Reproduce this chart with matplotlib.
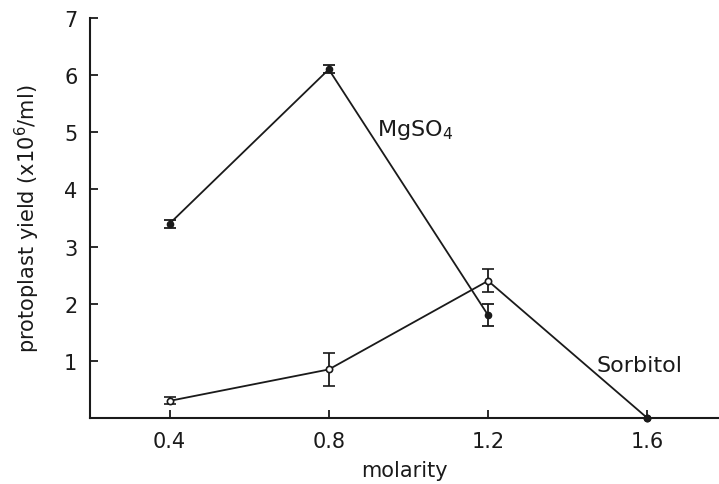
import matplotlib.pyplot as plt

# molarity of the osmotic stabiliser
molarity = [0.4, 0.8, 1.2]
mgso4_yield = [3.4, 6.1, 1.8]
mgso4_err = [0.07, 0.07, 0.19]

sorb_molarity = [0.4, 0.8, 1.2, 1.6]
sorb_yield = [0.3, 0.85, 2.4, 0.0]
sorb_err = [0.06, 0.29, 0.2, 0.0]

x_ticks = [0.4, 0.8, 1.2, 1.6]
x_ticklabels = ['0.4', '0.8', '1.2', '1.6']
y_ticks = [1, 2, 3, 4, 5, 6, 7]

plt.rcParams['font.family'] = ['DejaVu Sans']
plt.rcParams['mathtext.fontset'] = 'dejavusans'

ink = '#1a1a1a'

fig = plt.figure(figsize=(7.19, 4.85), dpi=100)
ax = fig.add_axes([0.125, 0.136, 0.875, 0.825])

ax.errorbar(molarity, mgso4_yield, yerr=mgso4_err,
            color=ink, lw=1.3, marker='o', markersize=4.5,
            mfc=ink, capsize=4, capthick=1.3, elinewidth=1.3,
            clip_on=False)
ax.errorbar(sorb_molarity, sorb_yield, yerr=sorb_err,
            color=ink, lw=1.3, marker='o', markersize=4.5,
            mfc='white', mew=1.2, capsize=4, capthick=1.3, elinewidth=1.3,
            clip_on=False)
# the last point sits on the axis and shows as a dot
ax.plot(sorb_molarity[-1:], sorb_yield[-1:], 'o', color=ink,
        markersize=4.5, clip_on=False, zorder=5)

# labels beside the curves
ax.text(0.92, 4.96, r'MgSO$_{\mathregular{4}}$', fontsize=16, color=ink)
ax.text(1.473, 0.82, 'Sorbitol', fontsize=16, color=ink)

ax.set_xlim(0.2, 1.78)
ax.set_ylim(0, 7)
ax.set_xticks(x_ticks)
ax.set_xticklabels(x_ticklabels)
ax.set_yticks(y_ticks)

ax.spines['top'].set_visible(False)
ax.spines['right'].set_visible(False)
for s in ['left', 'bottom']:
    ax.spines[s].set_linewidth(1.5)
    ax.spines[s].set_color(ink)
ax.tick_params(direction='in', length=6, width=1.3, labelsize=15,
               colors=ink, pad=9)

ax.set_xlabel('molarity', fontsize=15, color=ink, labelpad=7)
ax.set_ylabel('protoplast yield (x10$^6$/ml)', fontsize=15,
              color=ink, labelpad=16)

fig.savefig('out.png', dpi=100)
